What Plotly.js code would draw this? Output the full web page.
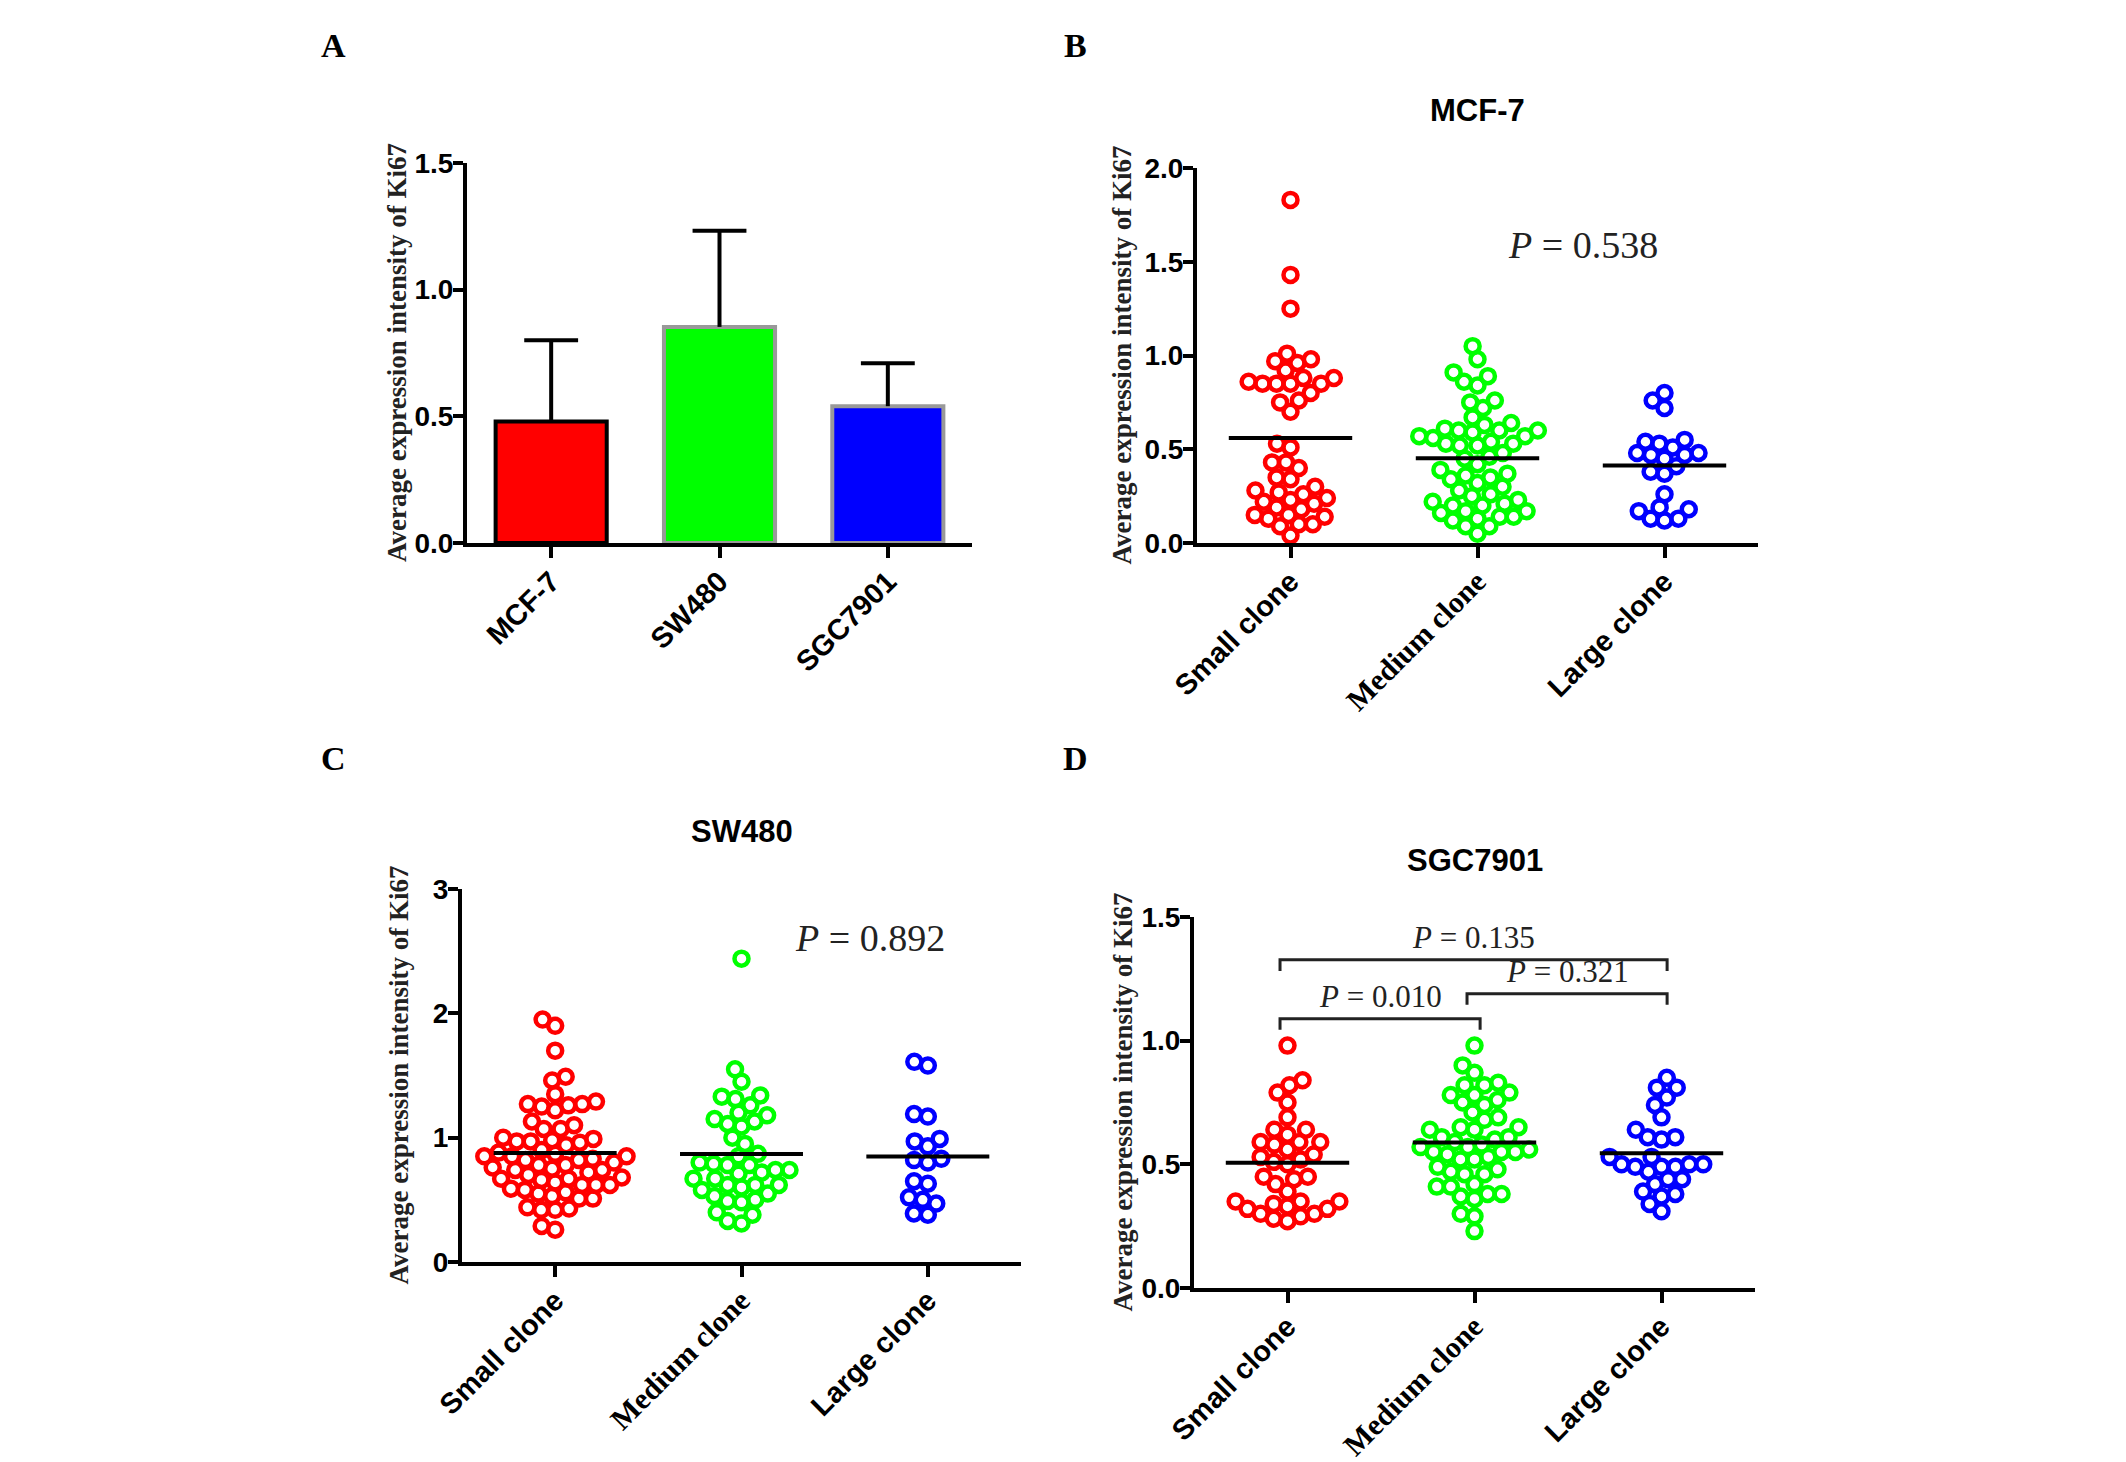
<!DOCTYPE html>
<html>
<head>
<meta charset="utf-8">
<script src="https://cdn.plot.ly/plotly-3.0.1.min.js"></script>
<style>html,body{margin:0;padding:0;background:#fff;}#chart{width:2126px;height:1462px;}</style>
</head>
<body>
<div id="chart"></div>
<script>
// ---------------- DATA ----------------
const barCategories = ['MCF-7', 'SW480', 'SGC7901'];
const barMeans = [0.48, 0.853, 0.54];
const barSD = [0.32, 0.38, 0.17];

const cloneCategories = ['Small clone', 'Medium clone', 'Large clone'];

const mcf7Small = [1.83, 1.43, 1.25, 1.01, 0.97, 0.98, 0.96, 0.92, 0.88, 0.85, 0.85, 0.85, 0.85, 0.86, 0.88, 0.76, 0.75, 0.80, 0.70, 0.53, 0.51, 0.43, 0.40, 0.43, 0.34, 0.35, 0.28, 0.26, 0.23, 0.21, 0.18, 0.19, 0.22, 0.24, 0.27, 0.30, 0.15, 0.13, 0.10, 0.09, 0.10, 0.14, 0.15, 0.04];
const mcf7Medium = [1.05, 0.98, 0.91, 0.84, 0.86, 0.89, 0.75, 0.72, 0.76, 0.64, 0.61, 0.60, 0.59, 0.60, 0.60, 0.63, 0.67, 0.57, 0.54, 0.52, 0.52, 0.53, 0.53, 0.56, 0.57, 0.46, 0.45, 0.48, 0.42, 0.37, 0.35, 0.32, 0.34, 0.36, 0.39, 0.28, 0.23, 0.21, 0.20, 0.22, 0.26, 0.17, 0.14, 0.12, 0.05, 0.09, 0.13, 0.16, 0.17, 0.09, 0.20, 0.25, 0.30, 0.14];
const mcf7Large = [0.80, 0.72, 0.76, 0.48, 0.47, 0.55, 0.53, 0.51, 0.54, 0.45, 0.47, 0.48, 0.41, 0.37, 0.38, 0.26, 0.18, 0.13, 0.12, 0.13, 0.17, 0.19];

const sw480Small = [1.95, 1.90, 1.70, 1.46, 1.49, 1.35, 1.25, 1.29, 1.22, 1.27, 1.26, 1.27, 1.13, 1.10, 1.07, 1.07, 1.00, 0.98, 0.97, 0.94, 0.96, 0.97, 0.99, 0.85, 0.82, 0.80, 0.82, 0.87, 0.78, 0.85, 0.75, 0.74, 0.74, 0.68, 0.62, 0.62, 0.67, 0.59, 0.62, 0.67, 0.51, 0.51, 0.43, 0.42, 0.42, 0.44, 0.26, 0.29, 0.90, 0.88, 0.85, 0.83, 0.78, 0.76, 0.72, 0.70, 0.66, 0.64, 0.58, 0.56, 0.55, 0.53];
const sw480Medium = [2.44, 1.55, 1.45, 1.34, 1.33, 1.31, 1.26, 1.18, 1.15, 1.20, 1.11, 1.13, 1.09, 1.00, 0.95, 0.79, 0.78, 0.85, 0.87, 0.78, 0.80, 0.67, 0.74, 0.72, 0.74, 0.67, 0.62, 0.62, 0.71, 0.60, 0.55, 0.58, 0.62, 0.50, 0.48, 0.53, 0.49, 0.38, 0.31, 0.33, 0.40];
const sw480Large = [1.58, 1.61, 1.19, 1.17, 0.99, 0.97, 0.93, 0.82, 0.80, 0.83, 0.65, 0.63, 0.52, 0.47, 0.38, 0.39, 0.50];

const sgcSmall = [0.98, 0.82, 0.84, 0.79, 0.75, 0.69, 0.64, 0.64, 0.59, 0.58, 0.62, 0.59, 0.59, 0.56, 0.54, 0.52, 0.50, 0.51, 0.53, 0.45, 0.42, 0.44, 0.45, 0.39, 0.35, 0.34, 0.32, 0.29, 0.27, 0.28, 0.32, 0.33, 0.35, 0.35, 0.30, 0.30];
const sgcMedium = [0.98, 0.90, 0.87, 0.82, 0.79, 0.78, 0.75, 0.74, 0.76, 0.78, 0.82, 0.83, 0.71, 0.68, 0.65, 0.65, 0.69, 0.64, 0.64, 0.55, 0.55, 0.56, 0.57, 0.57, 0.61, 0.54, 0.55, 0.53, 0.52, 0.48, 0.47, 0.49, 0.52, 0.46, 0.41, 0.38, 0.37, 0.36, 0.38, 0.41, 0.42, 0.46, 0.30, 0.29, 0.23, 0.61, 0.60, 0.59, 0.58];
const sgcLarge = [0.85, 0.81, 0.81, 0.77, 0.74, 0.69, 0.64, 0.61, 0.60, 0.61, 0.53, 0.53, 0.50, 0.49, 0.49, 0.47, 0.50, 0.49, 0.50, 0.44, 0.42, 0.44, 0.39, 0.37, 0.38, 0.34, 0.31];

const pMCF7 = '0.538';
const pSW480 = '0.892';
// D comparisons: [groupA, groupB, bracket height, P value]
const sgcPairs = [[0, 2, 1.327, '0.135'], [1, 2, 1.19, '0.321'], [0, 1, 1.089, '0.010']];

// ---------------- LAYOUT HELPERS ----------------
const W = 2126, H = 1462;
const colors = ['#ff0000', '#00ff00', '#0000ff'];
const px = v => v / W;
const py = v => 1 - v / H;

const panels = {
  A: {l: 467, r: 972, b: 543, t: 163, ymax: 1.5, dt: 0.5, fmt: '.1f'},
  B: {l: 1197, r: 1758, b: 543, t: 168, ymax: 2.0, dt: 0.5, fmt: '.1f'},
  C: {l: 462, r: 1021, b: 1262, t: 889, ymax: 3, dt: 1, fmt: 'd'},
  D: {l: 1194, r: 1755, b: 1288, t: 917, ymax: 1.5, dt: 0.5, fmt: '.1f'}
};

const yTickFont = {family: 'Liberation Sans, Arial, sans-serif', size: 28, color: '#000', weight: 'bold'};
const xTickFont = {family: 'Liberation Sans, Arial, sans-serif', size: 29, color: '#000', weight: 'bold'};
const serifSpan = s => '<span style="font-family:Liberation Serif, Times New Roman, serif;font-size:30px;font-weight:bold">' + s + '</span>';
const cloneTickText = cloneCategories.map((c, i) => i === 1 ? serifSpan(c) : c);

function xaxisFor(p, anchor, labels) {
  return {
    domain: [px(p.l), px(p.r)], anchor: anchor, range: [-0.5, 2.5],
    tickmode: 'array', tickvals: [0, 1, 2], ticktext: labels, tickangle: -45,
    ticks: 'outside', ticklen: 11, tickwidth: 4, tickcolor: '#000', ticklabelstandoff: -5,
    showline: true, linewidth: 4, linecolor: '#000',
    showgrid: false, zeroline: false, tickfont: xTickFont, fixedrange: true
  };
}
function yaxisFor(p, anchor) {
  const vals = [];
  for (let v = 0; v <= p.ymax + 1e-9; v += p.dt) vals.push(+v.toFixed(2));
  return {
    domain: [py(p.b), py(p.t)], anchor: anchor, range: [0, p.ymax],
    tickmode: 'array', tickvals: vals, tickformat: p.fmt,
    ticks: 'outside', ticklen: 10, tickwidth: 4, tickcolor: '#000', ticklabelstandoff: -6,
    showline: true, linewidth: 4, linecolor: '#000',
    showgrid: false, zeroline: false, tickfont: yTickFont, fixedrange: true
  };
}

// beeswarm offsets computed in pixel space
function swarm(values, pxPerY, d) {
  const idx = values.map((v, i) => i).sort((a, b) => values[a] - values[b]);
  const placed = [];
  const off = new Array(values.length).fill(0);
  for (const i of idx) {
    const y = values[i] * pxPerY;
    const ivs = [];
    for (const p of placed) {
      const dy = Math.abs(p.y - y);
      if (dy < d) { const dx = Math.sqrt(d * d - dy * dy); ivs.push([p.x - dx, p.x + dx]); }
    }
    const cands = [0];
    ivs.forEach(iv => cands.push(iv[0], iv[1]));
    cands.sort((a, b) => Math.abs(a) - Math.abs(b));
    let chosen = 0;
    for (const c of cands) {
      if (ivs.every(iv => c <= iv[0] + 1e-6 || c >= iv[1] - 1e-6)) { chosen = c; break; }
    }
    placed.push({x: chosen, y: y});
    off[i] = chosen;
  }
  return off;
}

const traces = [];

// ---------------- PANEL A: bars + upper error bars ----------------
traces.push({
  type: 'bar', x: [0, 1, 2], y: barMeans, width: 0.66, xaxis: 'x', yaxis: 'y',
  marker: {color: colors, line: {color: ['#000000', '#999999', '#999999'], width: 4}},
  hoverinfo: 'skip'
});
{
  const capHalf = 0.16;
  const ex = [], ey = [];
  barMeans.forEach((m, i) => {
    const top = m + barSD[i];
    ex.push(i, i, null, i - capHalf, i + capHalf, null);
    ey.push(m, top, null, top, top, null);
  });
  traces.push({type: 'scatter', mode: 'lines', x: ex, y: ey, xaxis: 'x', yaxis: 'y',
    line: {color: '#000', width: 4}, hoverinfo: 'skip', cliponaxis: false});
}

// ---------------- SCATTER PANELS ----------------
function addScatter(groups, p, xa, ya) {
  const pxPerX = (p.r - p.l) / 3;
  const pxPerY = (p.b - p.t) / p.ymax;
  groups.forEach((vals, g) => {
    const off = swarm(vals, pxPerY, 14);
    traces.push({
      type: 'scatter', mode: 'markers', xaxis: xa, yaxis: ya,
      x: off.map(o => g + o / pxPerX), y: vals,
      marker: {symbol: 'circle-open', size: 14, color: colors[g], line: {width: 4.5, color: colors[g]}},
      cliponaxis: false, hoverinfo: 'skip'
    });
  });
  groups.forEach((vals, g) => {
    const m = vals.reduce((a, b) => a + b, 0) / vals.length;
    traces.push({
      type: 'scatter', mode: 'lines', xaxis: xa, yaxis: ya,
      x: [g - 0.33, g + 0.33], y: [m, m],
      line: {color: '#000', width: 4}, hoverinfo: 'skip'
    });
  });
}
addScatter([mcf7Small, mcf7Medium, mcf7Large], panels.B, 'x2', 'y2');
addScatter([sw480Small, sw480Medium, sw480Large], panels.C, 'x3', 'y3');
addScatter([sgcSmall, sgcMedium, sgcLarge], panels.D, 'x4', 'y4');

// ---------------- ANNOTATIONS ----------------
const annotations = [];
const letterFont = {family: 'Liberation Serif, Times New Roman, serif', size: 34, color: '#000', weight: 'bold'};
[['A', 333, 45], ['B', 1075, 45], ['C', 333, 758], ['D', 1075, 758]].forEach(l => {
  annotations.push({text: l[0], x: px(l[1]), y: py(l[2]), xref: 'paper', yref: 'paper',
    showarrow: false, font: letterFont, xanchor: 'center', yanchor: 'middle'});
});
const titleFont = {family: 'Liberation Sans, Arial, sans-serif', size: 31, color: '#000', weight: 'bold'};
[['MCF-7', panels.B, 111], ['SW480', panels.C, 831], ['SGC7901', panels.D, 860]].forEach(t => {
  annotations.push({text: t[0], x: px((t[1].l + t[1].r) / 2), y: py(t[2]), xref: 'paper', yref: 'paper',
    showarrow: false, font: titleFont, xanchor: 'center', yanchor: 'middle'});
});
const yTitleFont = {family: 'Liberation Serif, Times New Roman, serif', size: 27, color: '#222', weight: 'bold'};
const yTitle = 'Average expression intensity of Ki67';
[[panels.A, 70], [panels.B, 76], [panels.C, 64], [panels.D, 72]].forEach(a => {
  const p = a[0];
  annotations.push({text: yTitle, textangle: -90, x: px(p.l - a[1]), y: py((p.b + p.t) / 2),
    xref: 'paper', yref: 'paper', showarrow: false, font: yTitleFont, xanchor: 'center', yanchor: 'middle'});
});
const pFont = {family: 'Liberation Serif, Times New Roman, serif', size: 38, color: '#222'};
const pFontSmall = {family: 'Liberation Serif, Times New Roman, serif', size: 31, color: '#222'};
const pText = v => '<i>P</i> = ' + v;
annotations.push({text: pText(pMCF7), x: px(1583), y: py(245), xref: 'paper', yref: 'paper',
  showarrow: false, font: pFont, xanchor: 'center', yanchor: 'middle'});
annotations.push({text: pText(pSW480), x: px(870), y: py(938), xref: 'paper', yref: 'paper',
  showarrow: false, font: pFont, xanchor: 'center', yanchor: 'middle'});

// D brackets
const shapes = [];
sgcPairs.forEach(pr => {
  const x0 = pr[0] - 0.04, x1 = pr[1] + 0.03, yTop = pr[2], yDrop = pr[2] - 0.045;
  shapes.push({type: 'path', xref: 'x4', yref: 'y4',
    path: `M ${x0},${yDrop} L ${x0},${yTop} L ${x1},${yTop} L ${x1},${yDrop}`,
    line: {color: '#222', width: 3}});
  annotations.push({text: pText(pr[3]), x: (x0 + x1) / 2, y: yTop + 0.012, xref: 'x4', yref: 'y4',
    showarrow: false, font: pFontSmall, xanchor: 'center', yanchor: 'bottom'});
});

const layout = {
  width: W, height: H, margin: {l: 0, r: 0, t: 0, b: 0, pad: 0},
  paper_bgcolor: '#fff', plot_bgcolor: 'rgba(0,0,0,0)', showlegend: false,
  xaxis: xaxisFor(panels.A, 'y', barCategories), yaxis: yaxisFor(panels.A, 'x'),
  xaxis2: xaxisFor(panels.B, 'y2', cloneTickText), yaxis2: yaxisFor(panels.B, 'x2'),
  xaxis3: xaxisFor(panels.C, 'y3', cloneTickText), yaxis3: yaxisFor(panels.C, 'x3'),
  xaxis4: xaxisFor(panels.D, 'y4', cloneTickText), yaxis4: yaxisFor(panels.D, 'x4'),
  annotations: annotations, shapes: shapes, bargap: 0
};

Plotly.newPlot('chart', traces, layout, {displayModeBar: false, staticPlot: true});
</script>
</body>
</html>
